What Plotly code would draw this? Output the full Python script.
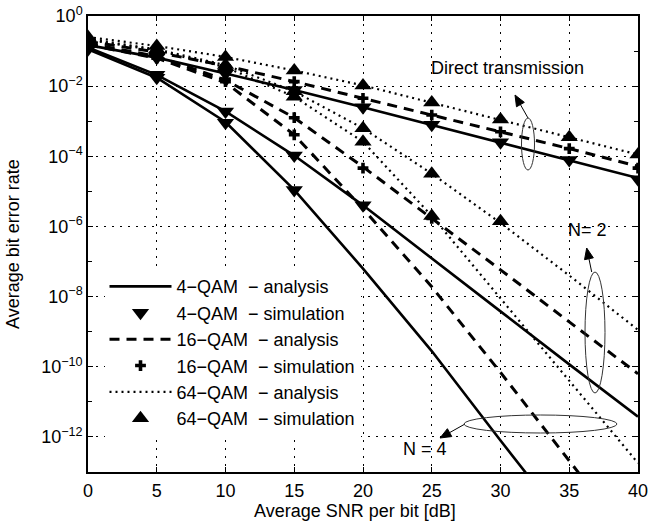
import math
import plotly.graph_objects as go

snr = [0, 5, 10, 15, 20, 25, 30, 35, 40]

# analysis curves (BER)
qam4_direct = [1.48e-1, 6.5e-2, 2.3e-2, 7.8e-3, 2.5e-3, 7.9e-4, 2.5e-4, 7.9e-5, 2.4e-5]
qam4_n2 = [1.26e-1, 2.1e-2, 1.9e-3, 1.05e-4, 4.0e-6, 1.26e-7, 3.8e-9, 1.17e-10, 3.8e-12]
qam4_n4 = [1.12e-1, 1.74e-2, 9.5e-4, 1.1e-5, 6.3e-8, 2.8e-10, 7.9e-13, 2.5e-15, 7.9e-18]

qam16_direct = [1.9e-1, 9.3e-2, 3.8e-2, 1.35e-2, 4.5e-3, 1.5e-3, 5.0e-4, 1.66e-4, 5.2e-5]
qam16_n2 = [1.66e-1, 7.1e-2, 1.5e-2, 1.26e-3, 5.0e-5, 1.74e-6, 5.8e-8, 1.9e-9, 6.3e-11]
qam16_n4 = [1.5e-1, 6.3e-2, 1.26e-2, 4.1e-4, 3.2e-6, 1.9e-8, 6.9e-11, 2.1e-13, 6.3e-16]

qam64_direct = [2.5e-1, 1.4e-1, 6.8e-2, 2.8e-2, 1.05e-2, 3.4e-3, 1.12e-3, 3.5e-4, 1.12e-4]
qam64_n2 = [2.2e-1, 1.12e-1, 4.0e-2, 7.1e-3, 6.3e-4, 3.2e-5, 1.26e-6, 4.0e-8, 1.12e-9]
qam64_n4 = [2.1e-1, 1.05e-1, 3.5e-2, 5.0e-3, 2.6e-4, 2.0e-6, 8.9e-9, 4.0e-11, 1.8e-13]

# simulation points (BER)
sim4_direct = [1.48e-1, 6.5e-2, 2.3e-2, 7.8e-3, 2.5e-3, 7.9e-4, 2.5e-4, 7.9e-5, 2.2e-5]
sim4_n2 = [1.26e-1, 2.1e-2, 1.9e-3, 1.05e-4, 4.0e-6]
sim4_n4 = [1.12e-1, 1.74e-2, 9.0e-4, 1.1e-5]

sim16_direct = [1.9e-1, 9.3e-2, 3.8e-2, 1.35e-2, 4.5e-3, 1.5e-3, 5.0e-4, 1.66e-4, 4.6e-5]
sim16_n2 = [1.66e-1, 7.1e-2, 1.6e-2, 1.26e-3, 4.6e-5, 1.7e-6]
sim16_n4 = [1.5e-1, 6.3e-2, 1.35e-2, 4.1e-4]

sim64_direct = [2.5e-1, 1.4e-1, 6.8e-2, 2.8e-2, 1.05e-2, 3.4e-3, 1.12e-3, 3.5e-4, 1.12e-4]
sim64_n2 = [2.2e-1, 1.12e-1, 4.0e-2, 7.1e-3, 6.3e-4, 3.2e-5, 1.4e-6]
sim64_n4 = [2.1e-1, 1.05e-1, 3.5e-2, 5.0e-3, 2.6e-4, 2.0e-6]

ytick_vals = [1e0, 1e-2, 1e-4, 1e-6, 1e-8, 1e-10, 1e-12]
ytick_text = ["10<sup>0</sup>", "10<sup>−2</sup>", "10<sup>−4</sup>", "10<sup>−6</sup>",
              "10<sup>−8</sup>", "10<sup>−10</sup>", "10<sup>−12</sup>"]
yminor_vals = [1e-1, 1e-3, 1e-5, 1e-7, 1e-9, 1e-11]
xtick_vals = [0, 5, 10, 15, 20, 25, 30, 35, 40]

labels = ["4−QAM\u00a0 − analysis", "4−QAM\u00a0 − simulation",
          "16−QAM\u00a0 − analysis", "16−QAM\u00a0 − simulation",
          "64−QAM\u00a0 − analysis", "64−QAM\u00a0 − simulation"]
x_title = "Average SNR per bit [dB]"
y_title = "Average bit error rate"


def joined(*series):
    xs, ys = [], []
    for s in series:
        xs += snr[:len(s)] + [None]
        ys += list(s) + [None]
    return xs[:-1], ys[:-1]


W, H = 649, 529
ML, MR, MT, MB = 88, 11, 16, 57
PW, PH = W - ML - MR, H - MT - MB


def px2paper(px, py):
    return (px - ML) / PW, (H - MB - py) / PH


fig = go.Figure()
FONT = "Liberation Sans, Arial, sans-serif"

x, y = joined(qam4_direct, qam4_n2, qam4_n4)
fig.add_trace(go.Scatter(x=x, y=y, mode="lines", name=labels[0],
                         line=dict(color="black", width=2.6, dash="solid")))
x, y = joined(sim4_direct, sim4_n2, sim4_n4)
fig.add_trace(go.Scatter(x=x, y=y, mode="markers", name=labels[1],
                         marker=dict(symbol="triangle-down", size=15, color="black")))
x, y = joined(qam16_direct, qam16_n2, qam16_n4)
fig.add_trace(go.Scatter(x=x, y=y, mode="lines", name=labels[2],
                         line=dict(color="black", width=3, dash="10px,7px")))
x, y = joined(sim16_direct, sim16_n2, sim16_n4)
fig.add_trace(go.Scatter(x=x, y=y, mode="markers", name=labels[3],
                         marker=dict(symbol="cross", size=9, color="black")))
x, y = joined(qam64_direct, qam64_n2, qam64_n4)
fig.add_trace(go.Scatter(x=x, y=y, mode="lines", name=labels[4],
                         line=dict(color="black", width=2.2, dash="2px,4px")))
x, y = joined(sim64_direct, sim64_n2, sim64_n4)
fig.add_trace(go.Scatter(x=x, y=y, mode="markers", name=labels[5],
                         marker=dict(symbol="triangle-up", size=15, color="black")))

axis_common = dict(
    automargin=False,
    showline=True, linecolor="black", linewidth=1.5, mirror="ticks",
    ticks="inside", ticklen=5, tickcolor="black", tickwidth=1,
    showgrid=True, gridcolor="black", gridwidth=1, griddash="2px,6px",
    zeroline=False, tickfont=dict(family=FONT, size=18, color="black"),
)

fig.update_xaxes(range=[0, 40], tickvals=xtick_vals, ticklabelstandoff=2, **axis_common)
fig.update_yaxes(type="log", range=[-13, 0], tickvals=ytick_vals, ticktext=ytick_text, **axis_common,
                 minor=dict(tickvals=yminor_vals, ticks="inside", ticklen=4, tickcolor="black", showgrid=False))

ann_font = dict(family=FONT, size=18, color="black")
# axis titles
xp, yp = px2paper(355, 511)
fig.add_annotation(x=xp, y=yp, xref="paper", yref="paper", text=x_title, showarrow=False,
                   xanchor="center", yanchor="middle", font=ann_font)
xp, yp = px2paper(13, 244)
fig.add_annotation(x=xp, y=yp, xref="paper", yref="paper", text=y_title, showarrow=False,
                   textangle=-90, xanchor="center", yanchor="middle", font=ann_font)

for text, (px, py) in [("Direct transmission", (507, 68)), ("N= 2", (587, 230)), ("N = 4", (425, 449))]:
    xp, yp = px2paper(px, py)
    fig.add_annotation(x=xp, y=yp, xref="paper", yref="paper", text=text, showarrow=False,
                       xanchor="center", yanchor="middle", font=ann_font)

# arrows (head, tail) in pixels
arrows = [((515, 95), (528, 118)), ((586.7, 248), (591.7, 272)), ((440, 438), (465, 424))]
for (hx, hy), (tx, ty) in arrows:
    dx, dy = hx - tx, hy - ty
    L = math.hypot(dx, dy)
    ux, uy = dx / L, dy / L
    bx, by = hx - 11 * ux, hy - 11 * uy
    nx, ny = -uy, ux
    p1 = px2paper(hx, hy)
    p2 = px2paper(bx + 4.5 * nx, by + 4.5 * ny)
    p3 = px2paper(bx - 4.5 * nx, by - 4.5 * ny)
    t0 = px2paper(tx, ty)
    b0 = px2paper(bx, by)
    fig.add_shape(type="line", xref="paper", yref="paper", x0=t0[0], y0=t0[1], x1=b0[0], y1=b0[1],
                  line=dict(color="black", width=1))
    fig.add_shape(type="path", xref="paper", yref="paper",
                  path=f"M {p1[0]},{p1[1]} L {p2[0]},{p2[1]} L {p3[0]},{p3[1]} Z",
                  fillcolor="black", line=dict(color="black", width=1))

# ellipses (pixel boxes)
ellipses = [(521.5, 118, 534.5, 170), (585, 272, 605, 393), (464, 415, 617, 433)]
for x0p, y0p, x1p, y1p in ellipses:
    a = px2paper(x0p, y1p)
    b = px2paper(x1p, y0p)
    fig.add_shape(type="circle", xref="paper", yref="paper", x0=a[0], y0=a[1], x1=b[0], y1=b[1],
                  line=dict(color="#333333", width=1))

fig.update_layout(
    template="none",
    width=W, height=H,
    margin=dict(l=ML, r=MR, t=MT, b=MB, autoexpand=False),
    paper_bgcolor="white", plot_bgcolor="white",
    font=dict(family=FONT, size=18, color="black"),
    showlegend=True,
    legend=dict(x=0.03, y=0.447, xanchor="left", yanchor="top", bgcolor="white",
                borderwidth=0, font=dict(family=FONT, size=18, color="black"),
                tracegroupgap=0, itemwidth=62),
)

fig.write_html("out.html", config={"displayModeBar": False},
               post_script="document.body.style.margin='0px';")
